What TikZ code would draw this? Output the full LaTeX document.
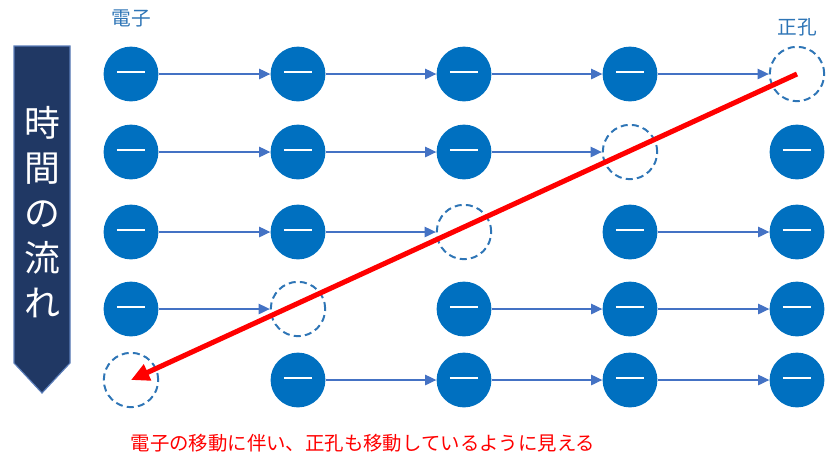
\documentclass[tikz,border=0pt]{standalone}
\usepackage{fontspec}
\newfontfamily\jpfont{Noto Sans CJK JP}
\usetikzlibrary{arrows.meta}
\definecolor{electroncolor}{RGB}{0, 112, 192}
\definecolor{holecolor}{RGB}{46, 117, 182}
\definecolor{linkcolor}{RGB}{68, 114, 196}
\definecolor{timecolor}{RGB}{32, 56, 100}
\definecolor{timeedge}{RGB}{90, 125, 185}

\begin{document}
\begin{tikzpicture}[
    x=0.025cm, y=-0.025cm,
    electron/.style={circle, fill=electroncolor, minimum size=1.37cm, inner sep=0pt,
        path picture={\draw[white, line width=1.4pt]
            ([xshift=-10pt, yshift=1.5pt]path picture bounding box.center) --
            ([xshift=10pt, yshift=1.5pt]path picture bounding box.center);}},
    hole/.style={circle, draw=holecolor, line width=1.4pt, dash pattern=on 5pt off 3pt, minimum size=1.36cm, inner sep=0pt},
    arrow/.style={-{Triangle[length=8pt, width=7.5pt]}, draw=linkcolor, line width=0.8pt},
    flowarrow/.style={-{Triangle[length=13pt, width=12pt]}, draw=red, line width=3.6pt},
    heading/.style={font=\jpfont\fontsize{14}{17}\selectfont, text=holecolor},
]
\useasboundingbox (0,0) rectangle (839,470);

% ============ 時間の流れ ============
\draw[fill=timecolor, draw=timeedge, line width=0.8pt]
    (14,46) -- (70,46) -- (70,363) -- (42,393) -- (14,363) -- cycle;
\node[text=white, align=center, font=\jpfont\fontsize{25.5}{32}\selectfont] (time) at (42,212)
    {時\\間\\の\\流\\れ};

% ============ 電子・正孔 ============
% row 1
\node[electron] (e11) at (131,74) {};
\node[electron] (e12) at (298,74) {};
\node[electron] (e13) at (464,74) {};
\node[electron] (e14) at (630,74) {};
\node[hole]     (h15) at (797,74) {};
% row 2
\node[electron] (e21) at (131,152) {};
\node[electron] (e22) at (298,152) {};
\node[electron] (e23) at (464,152) {};
\node[hole]     (h24) at (630,152) {};
\node[electron] (e25) at (797,152) {};
% row 3
\node[electron] (e31) at (131,232) {};
\node[electron] (e32) at (298,232) {};
\node[hole]     (h33) at (464,232) {};
\node[electron] (e34) at (630,232) {};
\node[electron] (e35) at (797,232) {};
% row 4
\node[electron] (e41) at (131,309) {};
\node[hole]     (h42) at (298,309) {};
\node[electron] (e43) at (464,309) {};
\node[electron] (e44) at (630,309) {};
\node[electron] (e45) at (797,309) {};
% row 5
\node[hole]     (h51) at (131,380) {};
\node[electron] (e52) at (298,380) {};
\node[electron] (e53) at (464,380) {};
\node[electron] (e54) at (630,380) {};
\node[electron] (e55) at (797,380) {};

\node[heading] (elabel) at (131,18) {電子};
\node[heading] (hlabel) at (797,27) {正孔};

% ============ 矢印 ============
\draw[arrow] (e11) -- (e12);
\draw[arrow] (e12) -- (e13);
\draw[arrow] (e13) -- (e14);
\draw[arrow] (e14) -- (h15);

\draw[arrow] (e21) -- (e22);
\draw[arrow] (e22) -- (e23);
\draw[arrow] (e23) -- (h24);

\draw[arrow] (e31) -- (e32);
\draw[arrow] (e32) -- (h33);
\draw[arrow] (e34) -- (e35);

\draw[arrow] (e41) -- (h42);
\draw[arrow] (e43) -- (e44);
\draw[arrow] (e44) -- (e45);

\draw[arrow] (e52) -- (e53);
\draw[arrow] (e53) -- (e54);
\draw[arrow] (e54) -- (e55);

% 正孔の移動
\draw[flowarrow] (h15.center) -- (h51.center);

\node[font=\jpfont\fontsize{13.8}{16}\selectfont, text=red] (note) at (363,443)
    {電子の移動に伴い、正孔も移動しているように見える};

\end{tikzpicture}
\end{document}
